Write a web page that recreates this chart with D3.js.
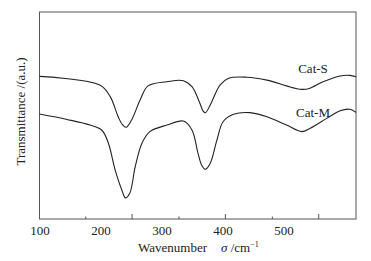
<!DOCTYPE html>
<html>
<head>
<meta charset="utf-8">
<script src="https://cdn.jsdelivr.net/npm/d3@7"></script>
<style>
  body { margin: 0; background: #fff; }
  svg { display: block; font-family: "Liberation Serif", "Times New Roman", serif; }
</style>
</head>
<body>
<div id="chart"></div>
<script>
// wavenumber positions and transmittance (a.u.)
const catSx = [100, 199, 216, 229, 236, 242, 251, 265, 278, 309, 336, 350, 363, 368, 372, 380, 396, 410, 440, 473, 505, 527, 541, 565, 593, 609, 619];
const catSy = [68.9, 64.7, 59.1, 49.4, 45.6, 44.3, 47.8, 57.5, 64.3, 66.3, 66.8, 63.9, 55.9, 52.3, 51.3, 55.1, 64.7, 68.0, 68.5, 67.1, 64.3, 62.7, 62.9, 66.3, 69.1, 69.4, 68.7];

const catMx = [100, 145, 183, 202, 213, 224, 235, 241, 248, 257, 268, 281, 309, 336, 350, 360, 366, 372, 380, 391, 401, 418, 445, 473, 505, 530, 544, 571, 593, 609, 619];
const catMy = [50.7, 48.1, 45.4, 43.0, 36.6, 23.7, 14.0, 10.2, 12.4, 25.3, 36.6, 42.2, 45.4, 47.3, 43.0, 31.7, 26.0, 24.0, 26.9, 38.2, 47.0, 50.6, 51.4, 49.4, 45.4, 42.2, 43.8, 48.6, 52.3, 53.0, 51.5];

const xLabels = [100, 200, 300, 400, 500];
const minorTicks = [175, 328, 481];
const majorTicks = [251, 404, 557];

const seriesNames = ["Cat-S", "Cat-M"];

const W = 371, H = 261;
const margin = { top: 12, right: 15, bottom: 42, left: 39.5 };

const svg = d3.select("#chart").append("svg")
    .attr("width", W)
    .attr("height", H);

const x = d3.scaleLinear()
    .domain([100, 619])
    .range([margin.left, W - margin.right]);

const y = d3.scaleLinear()
    .domain([0, 100])
    .range([H - margin.bottom, margin.top]);

const frameColor = "#555";

// plot frame
svg.append("rect")
    .attr("x", x(100))
    .attr("y", y(100))
    .attr("width", x(619) - x(100))
    .attr("height", y(0) - y(100))
    .attr("fill", "none")
    .attr("stroke", frameColor)
    .attr("stroke-width", 1);

// tick marks (inward, alternating lengths)
svg.append("g")
    .attr("transform", `translate(0,${y(0)})`)
    .call(d3.axisTop(x).tickValues(majorTicks).tickSize(5).tickFormat(""))
    .call(g => g.select(".domain").remove())
    .call(g => g.selectAll("line").attr("stroke", frameColor));

svg.append("g")
    .attr("transform", `translate(0,${y(0)})`)
    .call(d3.axisTop(x).tickValues(minorTicks).tickSize(2.5).tickFormat(""))
    .call(g => g.select(".domain").remove())
    .call(g => g.selectAll("line").attr("stroke", frameColor));

// tick labels
svg.append("g")
    .attr("transform", `translate(0,${y(0)})`)
    .call(d3.axisBottom(x).tickValues(xLabels).tickSize(0).tickPadding(7).tickFormat(d3.format("d")))
    .call(g => g.select(".domain").remove())
    .call(g => g.selectAll("text")
        .attr("fill", "#222")
        .style("font-family", "Liberation Serif, serif")
        .style("font-size", "13px"));

// x axis title
const xt = svg.append("text")
    .attr("x", 138)
    .attr("y", 252)
    .attr("fill", "#222")
    .attr("font-size", "13px");
xt.append("tspan").text("Wavenumber");
xt.append("tspan").attr("dx", 14).attr("font-style", "italic").text("σ");
xt.append("tspan").text(" /cm");
xt.append("tspan").attr("dy", -5).attr("font-size", "8px").text("−1");

// y axis title
svg.append("text")
    .attr("transform", `translate(25,${(y(0) + y(100)) / 2 - 4}) rotate(-90)`)
    .attr("text-anchor", "middle")
    .attr("fill", "#222")
    .attr("font-size", "13px")
    .text("Transmittance /(a.u.)");

// spectra
const line = d3.line()
    .x(d => x(d[0]))
    .y(d => y(d[1]))
    .curve(d3.curveCatmullRom.alpha(0.5));

const series = [
    d3.zip(catSx, catSy),
    d3.zip(catMx, catMy)
];

svg.selectAll(".spectrum")
    .data(series)
    .join("path")
    .attr("class", "spectrum")
    .attr("d", line)
    .attr("fill", "none")
    .attr("stroke", "#222")
    .attr("stroke-width", 1.1);

// series labels
const labelPos = [[313, 73], [313, 117]];
svg.selectAll(".series-label")
    .data(seriesNames)
    .join("text")
    .attr("class", "series-label")
    .attr("x", (d, i) => labelPos[i][0])
    .attr("y", (d, i) => labelPos[i][1])
    .attr("text-anchor", "middle")
    .attr("fill", "#222")
    .attr("font-size", "13px")
    .text(d => d);
</script>
</body>
</html>
